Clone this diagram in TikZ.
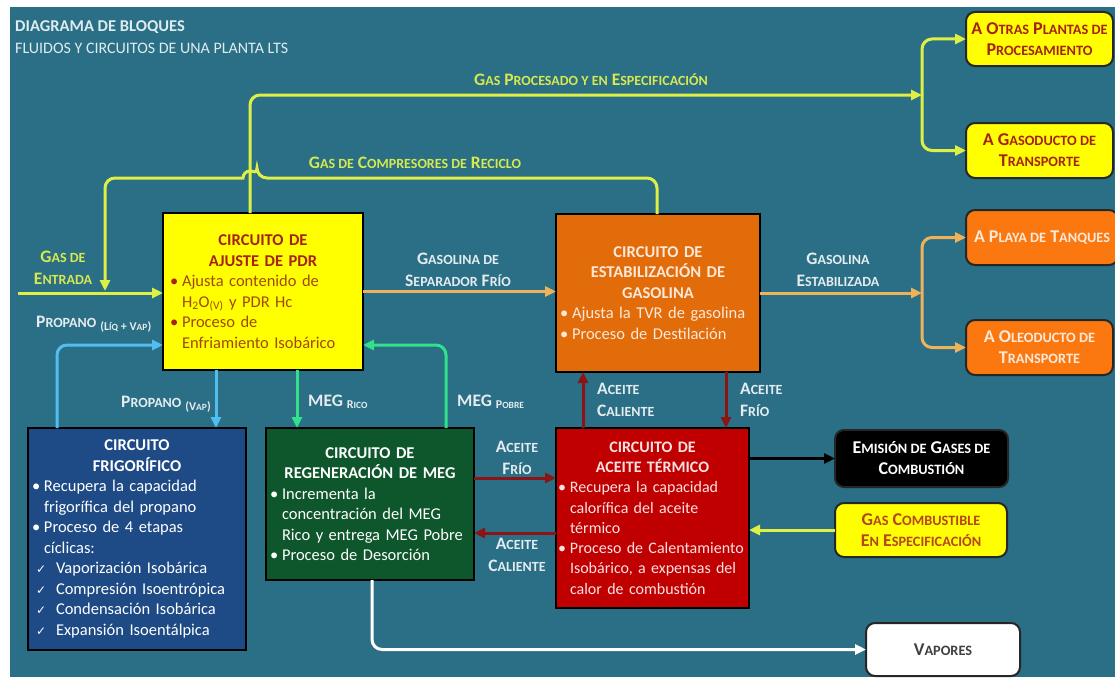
\documentclass[tikz,border=0pt]{standalone}
\usepackage{fontspec}
\setmainfont{Carlito}
\newfontfamily\djv{DejaVu Sans}
\usetikzlibrary{arrows.meta}
\hyphenpenalty=10000
\exhyphenpenalty=10000
\definecolor{bg}{RGB}{42,111,133}
\definecolor{ylwL}{RGB}{222,240,70}
\definecolor{ylwT}{RGB}{215,232,80}
\definecolor{lblW}{RGB}{228,236,240}
\definecolor{orgL}{RGB}{238,178,90}
\definecolor{bluL}{RGB}{80,190,240}
\definecolor{grnL}{RGB}{50,225,140}
\definecolor{redL}{RGB}{140,20,20}
\definecolor{pdrF}{RGB}{255,255,0}
\definecolor{pdrT}{RGB}{165,35,20}
\definecolor{pdrB}{RGB}{160,72,10}
\definecolor{stabF}{RGB}{226,107,10}
\definecolor{stabT}{RGB}{253,233,217}
\definecolor{frigF}{RGB}{30,74,134}
\definecolor{megF}{RGB}{14,86,44}
\definecolor{aceF}{RGB}{192,0,0}
\definecolor{aceT}{RGB}{250,225,225}
\definecolor{orgBox}{RGB}{250,120,15}
\definecolor{titleC}{RGB}{222,236,240}
\definecolor{gcT}{RGB}{180,70,30}
\def\smcsize{11}
\newcommand\smc[1]{{\fontsize{\smcsize}{\smcsize}\selectfont #1}}
\newcommand\bul[2][•]{\par\hangindent=12pt\hangafter=1\noindent\makebox[12pt][l]{#1}#2\par}
\newcommand\chk[1]{\par\noindent\hspace*{4pt}\makebox[20pt][l]{\djv\fontsize{12}{12}\selectfont ✓}#1\par}
\newcommand\subsc[1]{\raisebox{-2.5pt}{\fontsize{12}{12}\selectfont #1}}
\newcommand\subss[1]{{\fontsize{9.5}{9.5}\selectfont #1}}
\begin{document}
\begin{tikzpicture}[x=1pt,y=-1pt,
  conn/.style={line width=3pt,-{Triangle[length=11pt,width=10pt]}},
  box/.style={draw=black,line width=2.5pt,anchor=north west,outer sep=0pt,inner xsep=5pt,
    align=left,font=\fontsize{16.5}{20.5}\selectfont},
  rbox/.style={draw=black!85,line width=2pt,rounded corners=9pt,anchor=north west,outer sep=0pt,
    align=center,inner sep=2pt,font={\def\smcsize{14.3}\fontsize{18}{21}\selectfont\bfseries}},
  lbl/.style={align=center,inner sep=0pt,text=lblW,font={\def\smcsize{14}\fontsize{17.5}{21.5}\selectfont\bfseries}},
  lbll/.style={lbl,align=left,anchor=west},
  ttl/.style={anchor=west,inner sep=0pt,text=titleC}
]
\useasboundingbox (0,0) rectangle (1115,677);
\fill[white] (0,0) rectangle (1115,677);
\fill[bg] (10,7) rectangle (1115,677);

% titles
\node[ttl,font=\fontsize{16.5}{20}\selectfont\bfseries] (t1) at (15,27) {DIAGRAMA DE BLOQUES};
\node[ttl,font=\fontsize{16}{18}\selectfont] (t2) at (15,48) {FLUIDOS Y CIRCUITOS DE UNA PLANTA LTS};

% main boxes
\node[box,fill=pdrF,minimum width=199pt,minimum height=157pt,text width=186pt,inner xsep=7pt,text=pdrB] (pdr) at (163,213)
 {{\centering\bfseries\color{pdrT} CIRCUITO DE\\AJUSTE DE PDR\par}
  \bul[\textcolor{pdrT}{•}]{Ajusta contenido de\newline H\textsubscript{2}O\textsubscript{(V)} y PDR Hc}
  \bul[\textcolor{pdrT}{•}]{Proceso de\newline Enfriamiento Isobárico}};
\node[box,fill=stabF,minimum width=204pt,minimum height=158pt,text width=196pt,inner xsep=4pt,text=stabT] (stab) at (556,214)
 {{\centering\bfseries CIRCUITO DE\\ESTABILIZACIÓN DE\\GASOLINA\par}
  \bul{Ajusta la TVR de gasolina}
  \bul{Proceso de Destilación}};
\node[box,fill=frigF,minimum width=218pt,minimum height=222pt,text width=210pt,inner xsep=4pt,text=white] (frig) at (28,428)
 {{\centering\bfseries CIRCUITO\\FRIGORÍFICO\par}
  \bul{Recupera la capacidad\newline frigorífica del propano}
  \bul{Proceso de 4 etapas\newline cíclicas:}
  \chk{Vaporización Isobárica}
  \chk{Compresión Isoentrópica}
  \chk{Condensación Isobárica}
  \chk{Expansión Isoentálpica}};
\node[box,fill=megF,minimum width=208pt,minimum height=152pt,text width=200pt,inner xsep=4pt,text=white] (meg) at (266,428)
 {{\centering\bfseries CIRCUITO DE\\REGENERACIÓN DE MEG\par}
  \bul{Incrementa la\newline concentración del MEG\newline Rico y entrega MEG Pobre}
  \bul{Proceso de Desorción}};
\node[box,fill=aceF,minimum width=193pt,minimum height=180pt,text width=189pt,inner xsep=2pt,text=aceT,font=\fontsize{16}{20.3}\selectfont] (ace) at (556,428)
 {{\centering\bfseries CIRCUITO DE\\ACEITE TÉRMICO\par}
  \bul{Recupera la capacidad\newline calorífica del aceite\newline térmico}
  \bul{\mbox{Proceso de Calentamiento}\newline \mbox{Isobárico, a expensas del}\newline calor de combustión}};

% right boxes
\node[rbox,fill=pdrF,text=pdrT,minimum width=147pt,minimum height=54pt] (otras) at (966,12) {A O\smc{TRAS} P\smc{LANTAS DE}\\P\smc{ROCESAMIENTO}};
\node[rbox,fill=pdrF,text=pdrT,minimum width=147pt,minimum height=55pt] (gasod) at (966,123) {A G\smc{ASODUCTO DE}\\T\smc{RANSPORTE}};
\node[rbox,fill=orgBox,text=stabT,minimum width=152pt,minimum height=55pt] (playa) at (966,210) {A P\smc{LAYA DE} T\smc{ANQUES}};
\node[rbox,fill=orgBox,text=stabT,minimum width=147pt,minimum height=55pt] (oleo) at (966,320) {A O\smc{LEODUCTO DE}\\T\smc{RANSPORTE}};
\node[rbox,fill=black,text=white,minimum width=173pt,minimum height=57pt] (emis) at (835,430) {E\smc{MISIÓN DE} G\smc{ASES DE}\\C\smc{OMBUSTIÓN}};
\node[rbox,fill=pdrF,text=gcT,minimum width=172pt,minimum height=54pt] (gcomb) at (835,503) {G\smc{AS} C\smc{OMBUSTIBLE}\\E\smc{N} E\smc{SPECIFICACIÓN}};
\node[rbox,fill=white,text=black!75,minimum width=154pt,minimum height=53pt] (vap) at (866,623) {V\smc{APORES}};

% helper coordinates
\coordinate (gb) at (922,95);
\coordinate (ob) at (922,293);
\coordinate (xa) at (250,0);
\coordinate (xc) at (657,0);
\coordinate (gin) at (18,293);
\coordinate (ge) at (105,291);
\coordinate (y345) at (0,345);
\coordinate (xp1) at (57,0);
\coordinate (xp2) at (216,0);
\coordinate (xm1) at (297,0);
\coordinate (xm2) at (446,0);
\coordinate (xa1) at (583,0);
\coordinate (xa2) at (726,0);
\coordinate (y478) at (0,478);
\coordinate (y533) at (0,533);
\coordinate (xv) at (372,0);

% gas procesado
\draw[conn,ylwL,rounded corners=10pt] (pdr.north -| xa) |- (gb);
\draw[conn,ylwL,rounded corners=10pt] (gb) |- (otras.west);
\draw[conn,ylwL,rounded corners=10pt] (gb) |- (gasod.west);
% gas compresores
\draw[conn,ylwL,rounded corners=10pt] (stab.north -| xc) |- (257,178) [sharp corners] arc[start angle=0,end angle=-180,radius=7] [rounded corners=10pt] -| (ge);
% gas de entrada
\draw[conn,ylwL] (gin) -- (gin -| pdr.west);
% gasolina
\draw[conn,orgL] (pdr.east) -- (pdr.east -| stab.west);
\draw[conn,orgL] (stab.east) -- (ob);
\draw[conn,orgL,rounded corners=10pt] (ob) |- (playa.west);
\draw[conn,orgL,rounded corners=10pt] (ob) |- (oleo.west);
% propano
\draw[conn,bluL,rounded corners=10pt] (frig.north -| xp1) |- (pdr.west |- y345);
\draw[conn,bluL] (pdr.south -| xp2) -- (frig.north -| xp2);
% MEG
\draw[conn,grnL] (pdr.south -| xm1) -- (meg.north -| xm1);
\draw[conn,grnL,rounded corners=10pt] (meg.north -| xm2) |- (pdr.east |- y345);
% aceite
\draw[conn,redL] (ace.north -| xa1) -- (stab.south -| xa1);
\draw[conn,redL] (stab.south -| xa2) -- (ace.north -| xa2);
\draw[conn,redL] (meg.east |- y478) -- (ace.west |- y478);
\draw[conn,redL] (ace.west |- y533) -- (meg.east |- y533);
% combustion
\draw[conn,black] (ace.east |- emis.west) -- (emis.west);
\draw[conn,ylwL] (gcomb.west) -- (gcomb.west -| ace.east);
% vapores
\draw[conn,white,rounded corners=10pt] (meg.south -| xv) |- (vap.west);

% labels
\node[lbl,text=ylwT] (lgp) at (591,80) {G\smc{AS} P\smc{ROCESADO Y EN} E\smc{SPECIFICACIÓN}};
\node[lbl,text=ylwT] (lgc) at (415,163) {G\smc{AS DE} C\smc{OMPRESORES DE} R\smc{ECICLO}};
\node[lbl,text=ylwT] (lge) at (63,268) {G\smc{AS DE}\\E\smc{NTRADA}};
\node[lbll] (lp1) at (36,324) {P\smc{ROPANO} \subsc{(L\subss{ÍQ} + V\subss{AP})}};
\node[lbl] (lp2) at (166,404) {P\smc{ROPANO} \subsc{(V\subss{AP})}};
\node[lbll] (lm1) at (308,402) {MEG \subsc{R\subss{ICO}}};
\node[lbll] (lm2) at (457,402) {MEG \subsc{P\subss{OBRE}}};
\node[lbl] (lg1) at (458,270) {G\smc{ASOLINA DE}\\S\smc{EPARADOR} F\smc{RÍO}};
\node[lbl] (lg2) at (838,270) {G\smc{ASOLINA}\\E\smc{STABILIZADA}};
\node[lbll] (la1) at (597,400) {A\smc{CEITE}\\C\smc{ALIENTE}};
\node[lbll] (la2) at (740,400) {A\smc{CEITE}\\F\smc{RÍO}};
\node[lbl] (la3) at (517,458) {A\smc{CEITE}\\F\smc{RÍO}};
\node[lbl] (la4) at (517,555) {A\smc{CEITE}\\C\smc{ALIENTE}};
\end{tikzpicture}
\end{document}
